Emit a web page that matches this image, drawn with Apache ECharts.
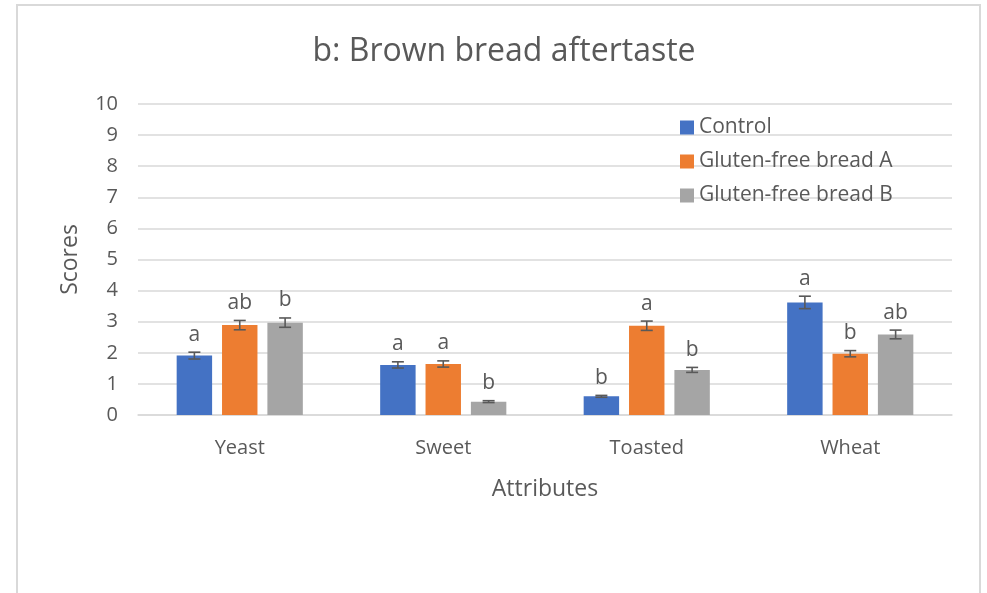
<!DOCTYPE html>
<html>
<head>
<meta charset="utf-8">
<script src="https://cdn.jsdelivr.net/npm/echarts@6/dist/echarts.min.js"></script>
<style>
  html, body { margin: 0; padding: 0; background: #fff; }
  #chart { width: 987px; height: 593px; }
</style>
</head>
<body>
<div id="chart"></div>
<script>
// Sensory scores for brown bread aftertaste attributes
const categories = ['Yeast', 'Sweet', 'Toasted', 'Wheat'];
const seriesNames = ['Control', 'Gluten-free bread A', 'Gluten-free bread B'];

const controlMeans = [1.91, 1.61, 0.60, 3.62];
const breadAMeans  = [2.89, 1.64, 2.87, 1.97];
const breadBMeans  = [2.97, 0.43, 1.45, 2.59];

const controlErr = [0.11, 0.10, 0.03, 0.20];
const breadAErr  = [0.15, 0.10, 0.15, 0.10];
const breadBErr  = [0.15, 0.03, 0.08, 0.14];

const controlLetters = ['a', 'a', 'b', 'a'];
const breadALetters  = ['ab', 'a', 'a', 'b'];
const breadBLetters  = ['b', 'b', 'b', 'ab'];

const yTicks = [0, 1, 2, 3, 4, 5, 6, 7, 8, 9, 10];

const colors = ['#4472C4', '#ED7D31', '#A5A5A5'];
const textColor = '#595959';
const fontFamily = '"Open Sans", "Noto Sans", sans-serif';

const means = [controlMeans, breadAMeans, breadBMeans];
const errs = [controlErr, breadAErr, breadBErr];
const letters = [controlLetters, breadALetters, breadBLetters];

const barCategoryGap = '38%';
const barGap = '28%';

// Error bar + significance letter drawn over each bar
function makeErrorSeries(si) {
  const data = categories.map((c, i) => [i, means[si][i], errs[si][i]]);
  return {
    type: 'custom',
    name: seriesNames[si] + ' error',
    z: 10,
    data: data,
    renderItem: function (params, api) {
      const idx = api.value(0);
      const mean = api.value(1);
      const err = api.value(2);
      const letter = letters[si][params.dataIndex];
      const bandW = api.size([1, 0])[0];
      // same layout as the bars: 3 bars within each band
      const inner = bandW * (1 - 0.38);
      const barW = inner / (3 + 2 * 0.28);
      const gapW = barW * 0.28;
      const center = api.coord([idx, 0])[0];
      const x = center - inner / 2 + si * (barW + gapW) + barW / 2;
      const yHi = api.coord([idx, mean + err])[1];
      const yLo = api.coord([idx, mean - err])[1];
      const cap = 6;
      const style = { stroke: '#595959', lineWidth: 1.6 };
      return {
        type: 'group',
        children: [
          { type: 'line', shape: { x1: x, y1: yHi, x2: x, y2: yLo }, style: style },
          { type: 'line', shape: { x1: x - cap, y1: yHi, x2: x + cap, y2: yHi }, style: style },
          { type: 'line', shape: { x1: x - cap, y1: yLo, x2: x + cap, y2: yLo }, style: style },
          {
            type: 'text',
            style: {
              text: letter, x: x, y: yHi - 7,
              align: 'center', verticalAlign: 'bottom',
              fill: textColor, font: '21px ' + fontFamily
            }
          }
        ]
      };
    }
  };
}

const barSeries = seriesNames.map((name, si) => ({
  type: 'bar',
  name: name,
  data: means[si],
  itemStyle: { color: colors[si] },
  barCategoryGap: barCategoryGap,
  barGap: barGap
}));

const chart = echarts.init(document.getElementById('chart'), null, { renderer: 'canvas' });

chart.setOption({
  animation: false,
  backgroundColor: '#ffffff',
  textStyle: { fontFamily: fontFamily },
  graphic: [{
    type: 'rect',
    shape: { x: 17, y: 5, width: 963, height: 600 },
    style: { fill: 'none', stroke: '#d9d9d9', lineWidth: 2 },
    silent: true
  }],
  title: {
    text: 'b: Brown bread aftertaste',
    left: 499, top: 31, textAlign: 'center',
    textStyle: { color: textColor, fontSize: 32, fontWeight: 'normal', fontFamily: fontFamily }
  },
  legend: {
    data: seriesNames,
    orient: 'vertical',
    left: 675, top: 112,
    itemWidth: 14, itemHeight: 14, itemGap: 13,
    icon: 'rect',
    textStyle: { color: textColor, fontSize: 21, fontFamily: fontFamily }
  },
  grid: { left: 138, right: 35, top: 104, bottom: 178 },
  xAxis: {
    type: 'category',
    data: categories,
    name: 'Attributes',
    nameLocation: 'middle',
    nameGap: 63,
    nameTextStyle: { color: textColor, fontSize: 23, fontFamily: fontFamily },
    axisLine: { lineStyle: { color: '#d9d9d9', width: 1.5 } },
    axisTick: { show: false },
    axisLabel: { color: textColor, fontSize: 20, margin: 23, fontFamily: fontFamily }
  },
  yAxis: {
    type: 'value',
    min: yTicks[0], max: yTicks[yTicks.length - 1], interval: 1,
    name: 'Scores',
    nameLocation: 'middle',
    nameGap: 56,
    nameRotate: 90,
    nameTextStyle: { color: textColor, fontSize: 23, fontFamily: fontFamily },
    axisLine: { show: false },
    axisTick: { show: false },
    splitLine: { lineStyle: { color: '#d9d9d9', width: 1.5 } },
    axisLabel: { color: textColor, fontSize: 20, margin: 20, fontFamily: fontFamily }
  },
  series: barSeries.concat([0, 1, 2].map(makeErrorSeries))
});
</script>
</body>
</html>
